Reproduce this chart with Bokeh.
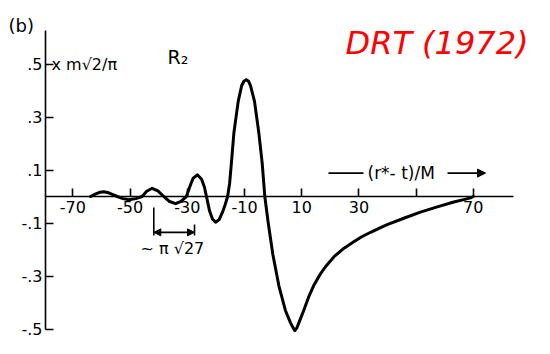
from bokeh.plotting import figure
from bokeh.models import FixedTicker, Label, Arrow, NormalHead, Range1d
from bokeh.embed import file_html
from bokeh.resources import INLINE

# ---- data ----
curve_x = [-63.8, -62.0, -60.5, -59.2, -57.5, -56.0, -54.5, -52.5, -50.4, -48.0,
           -45.8, -44.2, -42.3, -40.3, -38.2, -36.2, -34.1, -32.2, -30.3, -29.2,
           -28.0, -26.5, -25.0, -24.0, -23.3, -22.2, -21.2, -20.1, -18.9, -17.8,
           -16.8, -15.9, -15.2, -14.6, -13.7, -12.2, -11.0, -10.2, -9.4, -8.6,
           -7.9, -6.5, -5.0, -3.8, -2.9, -1.7, -0.1, 2.0, 4.3, 6.1,
           7.0, 7.6, 8.3, 9.0, 10.7, 12.4, 14.2, 16.2, 18.3, 21.3,
           24.7, 28.2, 31.0, 34.1, 37.0, 39.9, 45.7, 51.5, 57.4, 63.2,
           67.0, 69.0, 70.0]
curve_y = [0.0, 0.010, 0.016, 0.018, 0.014, 0.007, 0.0, -0.008, -0.012, -0.008,
           0.0, 0.020, 0.031, 0.021, 0.0, -0.019, -0.027, -0.018, 0.0, 0.035,
           0.068, 0.082, 0.065, 0.035, 0.0, -0.055, -0.085, -0.097, -0.088, -0.062,
           -0.032, 0.0, 0.050, 0.124, 0.241, 0.359, 0.418, 0.435, 0.441, 0.435,
           0.418, 0.359, 0.241, 0.124, 0.0, -0.100, -0.218, -0.336, -0.430, -0.477,
           -0.496, -0.506, -0.496, -0.477, -0.430, -0.380, -0.336, -0.298, -0.265, -0.227,
           -0.196, -0.171, -0.152, -0.135, -0.120, -0.106, -0.082, -0.059, -0.039, -0.021,
           -0.011, -0.005, 0.0]

x_ticks = [-70, -50, -30, -10, 10, 30, 50, 70]
x_tick_labels = ["-70", "-50", "-30", "-10", "10", "30", "", "70"]
y_ticks = [-0.5, -0.3, -0.1, 0.1, 0.3, 0.5]
y_tick_labels = ["-.5", "-.3", "-.1", ".1", ".3", ".5"]

W, H = 534, 338
X0, XS = 272.6, 2.86      # canvas x of data 0, px per unit
Y0, YS = 196.0, 265.0     # canvas y of data 0, px per unit
def dx(px):               # picture x -> data x
    return (px - X0) / XS
def dy(py):               # reference-picture y (data-anchored) -> data y
    return (200.0 - py) / 283.0
def cy(py):               # canvas y -> data y
    return (Y0 - py) / YS

p = figure(width=W, height=H, output_backend="svg", toolbar_location=None,
           x_range=Range1d(dx(0), dx(W)), y_range=Range1d(cy(H), cy(0)),
           min_border=0, background_fill_color="white", border_fill_color="white")
p.title.visible = False
p.outline_line_color = None
p.grid.visible = False

FONT = "DejaVu Sans"

xa = p.xaxis[0]
xa.fixed_location = 0
xa.bounds = (dx(45), dx(513))
xa.ticker = FixedTicker(ticks=x_ticks)
xa.major_label_overrides = {t: l for t, l in zip(x_ticks, x_tick_labels)}
xa.minor_tick_line_color = None
xa.major_tick_in = 8
xa.major_tick_out = 0
xa.axis_line_width = 1.6
xa.major_tick_line_width = 1.6
xa.axis_line_color = "black"
xa.major_label_text_font = FONT
xa.major_label_text_font_size = "16px"
xa.major_label_text_color = "black"
xa.major_label_standoff = 4

ya = p.yaxis[0]
ya.fixed_location = dx(45)
ya.bounds = (-0.5, cy(30))
ya.ticker = FixedTicker(ticks=y_ticks)
ya.major_label_overrides = {t: l for t, l in zip(y_ticks, y_tick_labels)}
ya.minor_tick_line_color = None
ya.major_tick_in = 8
ya.major_tick_out = 0
ya.axis_line_width = 1.6
ya.major_tick_line_width = 1.6
ya.axis_line_color = "black"
ya.major_label_text_font = FONT
ya.major_label_text_font_size = "16px"
ya.major_label_text_color = "black"
ya.major_label_standoff = 3

p.line(curve_x, curve_y, line_width=3, line_color="black", line_join="round",
       line_cap="round")

def lab(txt, x, y, size, **kw):
    p.add_layout(Label(x=x, y=y, text=txt, text_font=kw.pop("font", FONT),
                       text_font_size=size, text_color=kw.pop("color", "black"),
                       text_baseline=kw.pop("baseline", "middle"),
                       text_align=kw.pop("align", "left"), **kw))

lab("(b)", dx(8), cy(25), "18px")
lab("x m√2/π", dx(51), dy(58.5), "16px")
lab("R₂", dx(167), cy(56), "19px", baseline="alphabetic")
lab("(r*- t)/M", dx(367), dy(175), "17px")
lab("~ π √27", dx(140), dy(255), "16px")
lab("DRT (1972)", dx(345), cy(42), "32px", baseline="alphabetic", color="red",
    text_font_style="italic")

# arrow along the x axis caption
p.add_layout(Arrow(x_start=dx(328), y_start=dy(175), x_end=dx(363), y_end=dy(175),
                   end=None, line_width=1.6, line_color="black"))
p.add_layout(Arrow(x_start=dx(447), y_start=dy(175), x_end=dx(485), y_end=dy(175),
                   end=NormalHead(size=8, fill_color="black", line_color="black"),
                   line_width=1.6, line_color="black"))

# bracket for ~pi sqrt(27)
p.add_layout(Arrow(x_start=dx(153.3), y_start=dy(211.7), x_end=dx(153.3), y_end=dy(241.7),
                   end=None, line_width=1.6, line_color="black"))
p.add_layout(Arrow(x_start=dx(194), y_start=dy(230), x_end=dx(194), y_end=dy(241.7),
                   end=None, line_width=1.6, line_color="black"))
p.add_layout(Arrow(x_start=dx(153.3), y_start=dy(238.3), x_end=dx(194), y_end=dy(238.3),
                   start=NormalHead(size=7, fill_color="black", line_color="black"),
                   end=NormalHead(size=7, fill_color="black", line_color="black"),
                   line_width=1.6, line_color="black"))

open("out.html", "w").write(file_html(p, INLINE))
